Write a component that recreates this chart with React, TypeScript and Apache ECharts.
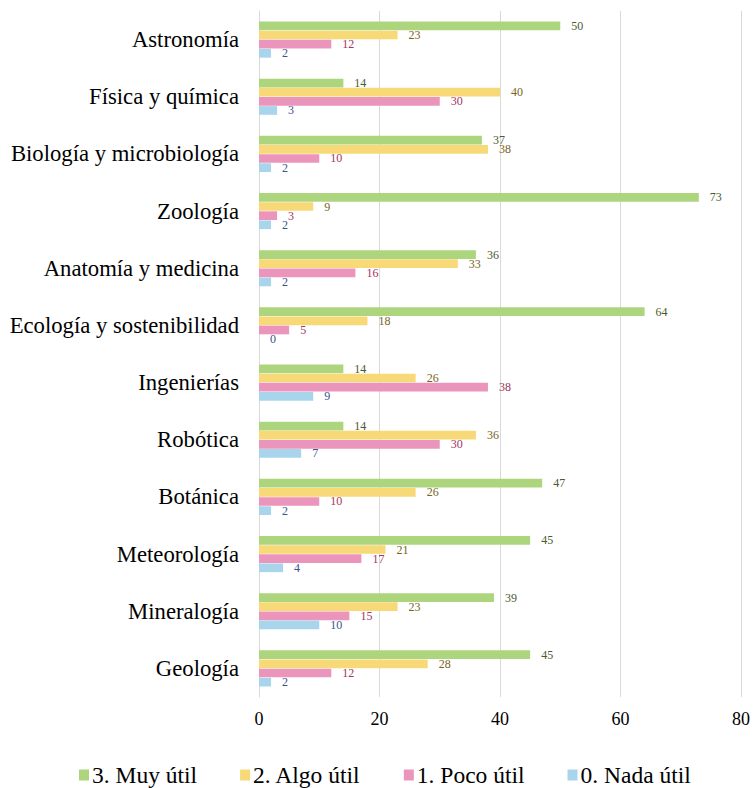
import React, { useEffect, useRef } from "react";
import * as echarts from "echarts";

const categories = [
  "Astronomía",
  "Física y química",
  "Biología y microbiología",
  "Zoología",
  "Anatomía y medicina",
  "Ecología y sostenibilidad",
  "Ingenierías",
  "Robótica",
  "Botánica",
  "Meteorología",
  "Mineralogía",
  "Geología",
];

const muyUtil = [50, 14, 37, 73, 36, 64, 14, 14, 47, 45, 39, 45];
const algoUtil = [23, 40, 38, 9, 33, 18, 26, 36, 26, 21, 23, 28];
const pocoUtil = [12, 30, 10, 3, 16, 5, 38, 30, 10, 17, 15, 12];
const nadaUtil = [2, 3, 2, 2, 2, 0, 9, 7, 2, 4, 10, 2];

const seriesNames = ["3. Muy útil", "2. Algo útil", "1. Poco útil", "0. Nada útil"];
const xTicks = [0, 20, 40, 60, 80];

const FONT = "Liberation Serif";

export default function App() {
  const ref = useRef<HTMLDivElement>(null);
  useEffect(() => {
    if (!ref.current) return;
    const chart = echarts.init(ref.current, null, { renderer: "svg" });
    const colors = ["#ADD57E", "#F8D978", "#EC95BC", "#A8D4EC"];
    const labelColors = ["#4B5A2E", "#7A6420", "#A3345E", "#3D528C"];
    const datas = [muyUtil, algoUtil, pocoUtil, nadaUtil];
    chart.setOption({
      animation: false,
      backgroundColor: "#ffffff",
      grid: { left: 259, right: 14, top: 11, bottom: 91, containLabel: false },
      legend: {
        top: 758,
        left: 74,
        padding: 5,
        itemWidth: 10,
        itemHeight: 11,
        itemGap: 43,
        icon: "rect",
        textStyle: { fontFamily: FONT, fontSize: 23.5, color: "#000", padding: [0, 0, 0, -2] },
        data: seriesNames,
      },
      xAxis: {
        type: "value",
        min: xTicks[0],
        max: xTicks[xTicks.length - 1],
        interval: 20,
        axisLine: { show: false },
        axisTick: { show: false },
        splitLine: { show: true, lineStyle: { color: "#D9D9D9", width: 1 } },
        axisLabel: { fontFamily: FONT, fontSize: 18, color: "#000", margin: 13 },
      },
      yAxis: {
        type: "category",
        inverse: true,
        data: categories,
        axisLine: { show: true, lineStyle: { color: "#D9D9D9" } },
        axisTick: { show: false },
        axisLabel: { fontFamily: FONT, fontSize: 22.7, color: "#000", margin: 20 },
      },
      series: datas.map((d, i) => ({
        name: seriesNames[i],
        type: "bar",
        data: d,
        barWidth: 8.7,
        barGap: "5%",
        itemStyle: { color: colors[i] },
        label: {
          show: true,
          position: "right",
          distance: 11,
          fontFamily: FONT,
          fontSize: 12,
          color: labelColors[i],
        },
      })),
    });
    return () => chart.dispose();
  }, []);
  return (
    <div
      ref={ref}
      style={{ position: "fixed", left: 0, top: 0, width: 755, height: 788, background: "#fff" }}
    />
  );
}
